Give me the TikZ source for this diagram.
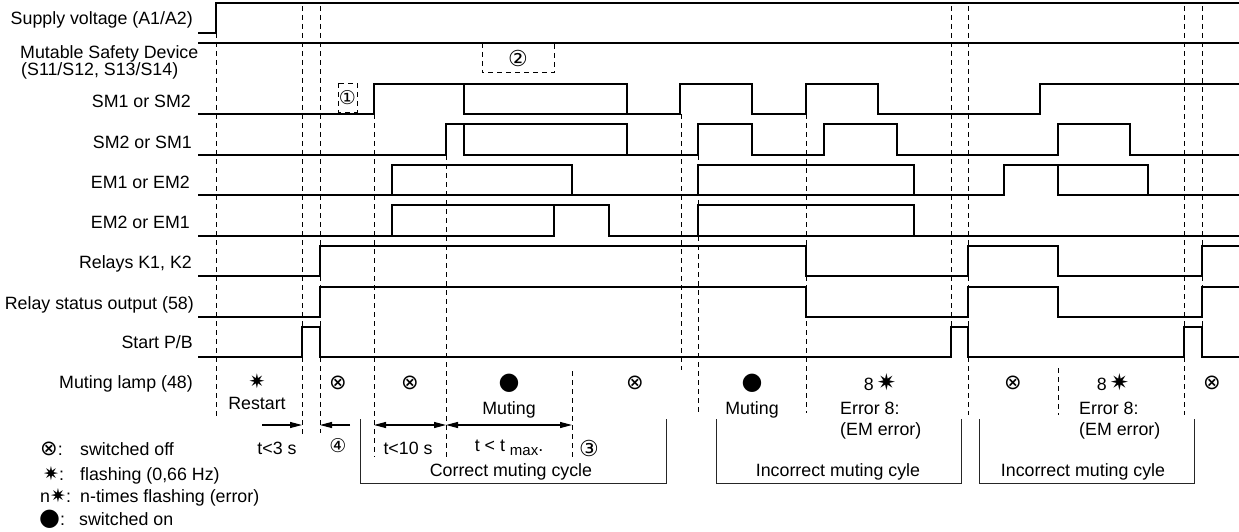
\documentclass[tikz,border=0pt]{standalone}
\usepackage{fontspec}
\setmainfont{Liberation Sans}
\newfontfamily\symfont{DejaVu Sans}
\usetikzlibrary{arrows.meta}
\newcommand\symOff{\symfont\fontsize{21}{21}\selectfont}
\newcommand\symStar{\symfont\fontsize{23}{23}\selectfont}
\newcommand\symStarM{\symfont\fontsize{20}{20}\selectfont}
\newcommand\symStarS{\symfont\fontsize{19}{19}\selectfont}
\newcommand\symOn{\symfont\fontsize{24}{24}\selectfont}
\newcommand\symNum{\symfont\fontsize{19}{19}\selectfont}
\newcommand\symNumB{\symfont\fontsize{22}{22}\selectfont}
\begin{document}
\begin{tikzpicture}[x=1pt,y=-1pt,
  font=\fontsize{17.8}{20}\selectfont,
  every node/.style={inner sep=0pt},
  sig/.style={line width=1.2pt, line join=miter},
  dsh/.style={line width=1pt, dash pattern=on 5pt off 4pt},
  brk/.style={line width=1pt, draw=black!85},
  arr/.style={line width=1.1pt, -{Triangle[length=12pt,width=6pt]}},
  darr/.style={line width=1.1pt, {Triangle[length=12pt,width=6pt]}-{Triangle[length=12pt,width=6pt]}},
  rl/.style={anchor=base east},
  ll/.style={anchor=base west},
  cl/.style={anchor=base}]
\useasboundingbox[fill=white] (0,0) rectangle (1239,532);

% row labels
\node[rl] (lsup) at (193,25) {Supply voltage (A1/A2)};
\node[ll] (lmsd1) at (20,59) {Mutable Safety Device};
\node[ll] (lmsd2) at (21,75.5) {(S11/S12, S13/S14)};
\node[rl] (lsm1) at (191,107.5) {SM1 or SM2};
\node[rl] (lsm2) at (192,148) {SM2 or SM1};
\node[rl] (lem1) at (190,188) {EM1 or EM2};
\node[rl] (lem2) at (190,228) {EM2 or EM1};
\node[rl] (lrel) at (192,268) {Relays K1, K2};
\node[rl] (lrso) at (194,309) {Relay status output (58)};
\node[rl] (lstart) at (193,348) {Start P/B};
\node[rl] (llamp) at (193,388) {Muting lamp (48)};

% signals
\draw[sig] (198,33) -- (216,33) -- (216,3) -- (1239,3);
\draw[sig] (198,43) -- (1239,43);
% SM1
\draw[sig] (198,114) -- (374,114) -- (374,84) -- (627,84) -- (627,114);
\draw[sig] (464,84) -- (464,114) -- (680,114) -- (680,84) -- (752,84) -- (752,114) -- (806,114) -- (806,84) -- (878,84) -- (878,114) -- (1040,114) -- (1040,84) -- (1239,84);
% SM2
\draw[sig] (198,155) -- (446,155) -- (446,124) -- (627,124) -- (627,155);
\draw[sig] (464,124) -- (464,155) -- (698,155) -- (698,124) -- (752,124) -- (752,155) -- (824,155) -- (824,124) -- (897,124) -- (897,155) -- (1058,155) -- (1058,124) -- (1130,124) -- (1130,155) -- (1239,155);
% EM1
\draw[sig] (198,195) -- (1004,195) -- (1004,165) -- (1148,165) -- (1148,195) -- (1239,195);
\draw[sig] (392,195) -- (392,165) -- (572,165) -- (572,195);
\draw[sig] (698,195) -- (698,165) -- (914,165) -- (914,195);
\draw[sig] (1058,165) -- (1058,195) -- (1148,195);
% EM2
\draw[sig] (198,236) -- (554,236) -- (554,205);
\draw[sig] (392,236) -- (392,205) -- (609,205) -- (609,236) -- (1239,236);
\draw[sig] (698,236) -- (698,205) -- (914,205) -- (914,236);
% Relays
\draw[sig] (198,276) -- (320,276) -- (320,246) -- (806,246) -- (806,276) -- (968,276) -- (968,246) -- (1058,246) -- (1058,276) -- (1202,276) -- (1202,246) -- (1239,246);
% Relay status output
\draw[sig] (198,317) -- (320,317) -- (320,287) -- (806,287) -- (806,317) -- (968,317) -- (968,287) -- (1058,287) -- (1058,317) -- (1202,317) -- (1202,287) -- (1239,287);
% Start P/B
\draw[sig] (198,357) -- (302,357) -- (302,327) -- (320,327) -- (320,357) -- (951,357) -- (951,327) -- (968,327) -- (968,357) -- (1184,357) -- (1184,327) -- (1202,327) -- (1202,357) -- (1239,357);

% dashed time markers
\draw[dsh] (216,33) -- (216,416);
\draw[dsh] (302,6) -- (302,435);
\draw[dsh] (320,6) -- (320,433);
\draw[dsh] (374,114) -- (374,457);
\draw[dsh] (446,155) -- (446,457);
\draw[dsh] (572,371) -- (572,457);
\draw[dsh] (681,114) -- (681,370);
\draw[dsh] (698,155) -- (698,413);
\draw[dsh] (806,114) -- (806,413);
\draw[dsh] (951,6) -- (951,357);
\draw[dsh] (968,6) -- (968,415);
\draw[dsh] (1058,368) -- (1058,415);
\draw[dsh] (1184,6) -- (1184,415);
\draw[dsh] (1202,6) -- (1202,357);

% dashed boxes 1 and 2
\draw[dsh, line width=0.9pt] (338,83) rectangle (357,112);
\node[font=\symNum] (n1) at (347.5,98) {①};
\draw[dsh] (482,43) -- (482,73) -- (554,73) -- (554,43);
\node[font=\symNumB] (n2) at (518,58) {②};

% muting lamp row
\node[font=\symStarM] (s1) at (257,381) {✷};
\node[cl] (restart) at (257,409) {Restart};
\node[font=\symOff] (o1) at (338,383) {⊗};
\node[font=\symOff] (o2) at (410,383) {⊗};
\node[font=\symOn] (b1) at (509,383) {●};
\node[cl] (mut1) at (509,414) {Muting};
\node[font=\symOff] (o3) at (635,383) {⊗};
\node[font=\symOn] (b2) at (752,383) {●};
\node[cl] (mut2) at (752,414) {Muting};
\node[cl] (e1) at (880,390) {8\,{\symStar ✷}};
\node[ll] (e1a) at (840,414) {Error 8:};
\node[ll] (e1b) at (840,435) {(EM error)};
\node[font=\symOff] (o4) at (1013,383) {⊗};
\node[cl] (e2) at (1113,390) {8\,{\symStar ✷}};
\node[ll] (e2a) at (1079,414) {Error 8:};
\node[ll] (e2b) at (1079,435) {(EM error)};
\node[font=\symOff] (o5) at (1212,383) {⊗};

% time arrows
\coordinate (a1s) at (262,425);
\coordinate (a1e) at (302,425);
\coordinate (a2s) at (350,425);
\coordinate (a2e) at (320,425);
\coordinate (a3s) at (374,425);
\coordinate (a3e) at (446,425);
\coordinate (a4e) at (572,425);
\draw[arr] (a1s) -- (a1e);
\draw[arr] (a2s) -- (a2e);
\draw[darr] (a3s) -- (a3e);
\draw[darr] (a3e) -- (a4e);
\node[cl] (t3) at (277,454) {t<3 s};
\node[font=\symNum] (n4) at (338,446) {④};
\node[cl] (t10) at (408,454) {t<10 s};
\node[cl] (tmax) at (509,451) {t < t \raisebox{-4pt}{\fontsize{15}{15}\selectfont max}.};
\node[font=\symNumB] (n3) at (589,448) {③};

% cycle brackets
\draw[brk] (360,419) -- (360,483) -- (666,483) -- (666,419);
\draw[brk] (716,419) -- (716,483) -- (961,483) -- (961,419);
\draw[brk] (979,419) -- (979,483) -- (1194,483) -- (1194,419);
\node[cl] (c1) at (511,476.5) {Correct muting cycle};
\node[cl] (c2) at (838,476.5) {Incorrect muting cyle};
\node[cl] (c3) at (1083,476.5) {Incorrect muting cyle};

% legend
\node[ll] (lg1s) at (40,455) {{\symOff ⊗}:};
\node[ll] (lg1) at (80,455) {switched off};
\node[ll] (lg2s) at (43,480) {{\symStarS ✷}:};
\node[ll] (lg2) at (80,480) {flashing (0,66 Hz)};
\node[ll] (lg3s) at (40,502.5) {n{\symStarS ✷}:};
\node[ll] (lg3) at (80,502.5) {n-times flashing (error)};
\node[ll] (lg4s) at (39,525) {{\symOn ●}:};
\node[ll] (lg4) at (79,525) {switched on};
\end{tikzpicture}
\end{document}
